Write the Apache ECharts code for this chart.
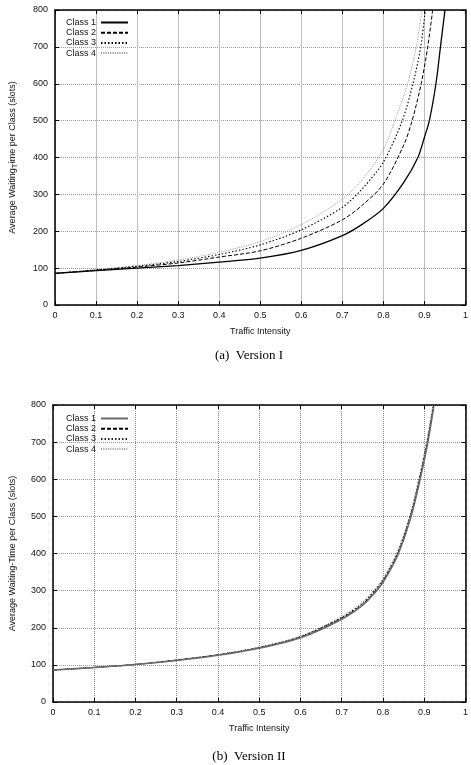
<!DOCTYPE html>
<html>
<head>
<meta charset="UTF-8">
<title>Average Waiting-Time per Class</title>
<script type="text/javascript" src="https://cdn.jsdelivr.net/npm/echarts@6/dist/echarts.min.js"></script>
<style>
  html, body { margin: 0; padding: 0; background: #fff; }
</style>
</head>
<body>

<div id="box" style="width:471px;height:765px;"></div>

<script type="text/javascript">

// tick labels
var xTicks = [0, 0.1, 0.2, 0.3, 0.4, 0.5, 0.6, 0.7, 0.8, 0.9, 1];
var yTicks = [0, 100, 200, 300, 400, 500, 600, 700, 800];
var classNames = ['Class 1', 'Class 2', 'Class 3', 'Class 4'];

// (a) Version I
var v1x1 = [0, 0.1, 0.2, 0.3, 0.4, 0.5, 0.6, 0.7, 0.75, 0.8, 0.85, 0.884, 0.9, 0.912, 0.928, 0.939, 0.95];
var v1y1 = [86, 93, 100, 107, 116, 127, 148, 188, 220, 262, 333, 400, 455, 500, 600, 700, 800];
var v1x2 = [0, 0.1, 0.2, 0.3, 0.4, 0.5, 0.6, 0.7, 0.75, 0.8, 0.85, 0.87, 0.892, 0.908, 0.92];
var v1y2 = [86, 94, 103, 114, 130, 147, 181, 231, 272, 328, 435, 500, 600, 700, 800];
var v1x3 = [0, 0.1, 0.2, 0.3, 0.4, 0.5, 0.6, 0.7, 0.75, 0.8, 0.846, 0.872, 0.891, 0.902];
var v1y3 = [86, 95, 105, 118, 137, 163, 204, 265, 317, 388, 500, 600, 700, 800];
var v1x4 = [0, 0.1, 0.2, 0.3, 0.4, 0.5, 0.6, 0.7, 0.75, 0.8, 0.828, 0.859, 0.88, 0.894];
var v1y4 = [86, 96, 107, 122, 143, 172, 218, 287, 342, 422, 500, 600, 700, 800];

// (b) Version II - the four classes nearly coincide
var v2x = [0, 0.1, 0.2, 0.3, 0.4, 0.5, 0.6, 0.7, 0.75, 0.78, 0.8, 0.835, 0.866, 0.888, 0.907, 0.923];
var v2y1 = [86, 93, 101, 112, 126, 145, 173, 223, 260, 294, 322, 394, 492, 590, 690, 795];
var v2y2 = [86, 93, 101, 113, 127, 146, 175, 226, 263, 298, 326, 398, 497, 596, 696, 800];
var v2y3 = [86, 93, 101, 113, 127, 147, 176, 228, 266, 301, 329, 402, 502, 602, 702, 806];
var v2y4 = [86, 93, 102, 114, 128, 148, 178, 230, 269, 304, 333, 406, 507, 607, 708, 812];

function pairs(xs, ys) {
  return xs.map(function (x, i) { return [x, ys[i]]; });
}

var styles = [
  { color: '#000', width: 1.3, type: 'solid' },
  { color: '#000', width: 1, type: [4, 2] },
  { color: '#000', width: 1.1, type: [1.5, 2] },
  { color: '#8c8c8c', width: 0.9, type: [1, 1.3] }
];
var styles2 = [
  { color: '#6a6a6a', width: 1.6, type: 'solid' },
  { color: '#000', width: 1, type: [4, 2] },
  { color: '#222', width: 1.1, type: [1.5, 2] },
  { color: '#9a9a9a', width: 1, type: [1, 1.3] }
];

var labelFont = { fontFamily: 'Liberation Sans, Arial, sans-serif', fontSize: 9, color: '#111' };

function xAxisPair(grid, solidGrid) {
  return [{
    type: 'value', gridIndex: grid, position: 'bottom', min: 0, max: 1, interval: 0.1,
    name: 'Traffic Intensity', nameLocation: 'middle', nameGap: 22,
    nameTextStyle: labelFont,
    axisLine: { onZero: false, lineStyle: { color: '#000', width: 1.5 } },
    axisTick: { inside: true, length: 4, lineStyle: { color: '#000' } },
    axisLabel: Object.assign({ margin: 6 }, labelFont),
    splitLine: { show: true, lineStyle: solidGrid
      ? { color: '#bdbdbd', width: 1, type: 'solid' }
      : { color: '#8a8a8a', width: 1, type: [1, 1] } }
  }, {
    type: 'value', gridIndex: grid, position: 'top', min: 0, max: 1, interval: 0.1,
    axisLine: { onZero: false, lineStyle: { color: '#000', width: 1.5 } },
    axisTick: { inside: true, length: 4, lineStyle: { color: '#000' } },
    axisLabel: { show: false }, splitLine: { show: false }
  }];
}

function yAxisPair(grid, name) {
  return [{
    type: 'value', gridIndex: grid, position: 'left', min: 0, max: 800, interval: 100,
    name: name, nameLocation: 'middle', nameGap: 36,
    nameTextStyle: Object.assign({
      rich: {
        n: { fontFamily: 'Liberation Sans, Arial, sans-serif', fontSize: 9, color: '#111' },
        s: { fontFamily: 'Liberation Sans, Arial, sans-serif', fontSize: 8, color: '#111', padding: [5, 0, 0, 0] }
      }
    }, labelFont),
    axisLine: { onZero: false, lineStyle: { color: '#000', width: 1.5 } },
    axisTick: { inside: true, length: 4, lineStyle: { color: '#000' } },
    axisLabel: Object.assign({ margin: 7 }, labelFont),
    splitLine: { show: true, lineStyle: { color: '#9a9a9a', width: 1, type: [1, 1] } }
  }, {
    type: 'value', gridIndex: grid, position: 'right', min: 0, max: 800, interval: 100,
    axisLine: { onZero: false, lineStyle: { color: '#000', width: 1.5 } },
    axisTick: { inside: true, length: 4, lineStyle: { color: '#000' } },
    axisLabel: { show: false }, splitLine: { show: false }
  }];
}

var series = [];
var set1 = [[v1x1, v1y1], [v1x2, v1y2], [v1x3, v1y3], [v1x4, v1y4]];
set1.forEach(function (s, i) {
  series.push({
    name: classNames[i], type: 'line', xAxisIndex: 0, yAxisIndex: 0,
    data: pairs(s[0], s[1]), showSymbol: false, symbol: 'none',
    smooth: 0.3, lineStyle: styles[i], itemStyle: { color: styles[i].color },
    animation: false, z: 10 - i
  });
});
var set2 = [v2y1, v2y2, v2y3, v2y4];
set2.forEach(function (ys, i) {
  series.push({
    name: classNames[i] + ' ', type: 'line', xAxisIndex: 2, yAxisIndex: 2,
    data: pairs(v2x, ys), showSymbol: false, symbol: 'none',
    smooth: 0.3, lineStyle: styles2[i], itemStyle: { color: styles2[i].color },
    animation: false, z: 10 - i
  });
});

function legendAt(top, names) {
  return {
    orient: 'vertical', left: 61, top: top, align: 'right',
    itemWidth: 27, itemHeight: 8, itemGap: 1.2,
    data: names, selectedMode: false,
    itemStyle: { opacity: 0, borderWidth: 0 },
    formatter: function (n) { return n.trim(); },
    textStyle: { fontFamily: 'Liberation Sans, Arial, sans-serif', fontSize: 9, color: '#111', padding: [0, 0, 0, 0] }
  };
}

var mychart = echarts.init(document.getElementById('box'), null, { renderer: 'canvas' });

var option = {
  backgroundColor: '#fff',
  animation: false,
  title: [{
    text: '(a)  Version I', left: 244, top: 344, textAlign: 'center',
    textStyle: { fontFamily: 'Liberation Serif, Times New Roman, serif', fontSize: 13, fontWeight: 'normal', color: '#000' }
  }, {
    text: '(b)  Version II', left: 244, top: 745, textAlign: 'center',
    textStyle: { fontFamily: 'Liberation Serif, Times New Roman, serif', fontSize: 13, fontWeight: 'normal', color: '#000' }
  }],
  legend: [
    legendAt(13, classNames),
    legendAt(409, classNames.map(function (n) { return n + ' '; }))
  ],
  grid: [
    { left: 52, right: 3, top: 10, height: 295 },
    { left: 52, right: 3, top: 405, height: 297 }
  ],
  xAxis: xAxisPair(0, true).concat(xAxisPair(1, false)),
  yAxis: yAxisPair(0, '{n|Average Waiting}{s|T}{n|ime per Class (slots)}')
    .concat(yAxisPair(1, 'Average Waiting-Time per Class (slots)')),
  series: series
};

mychart.setOption(option);
</script>
</body>
</html>
